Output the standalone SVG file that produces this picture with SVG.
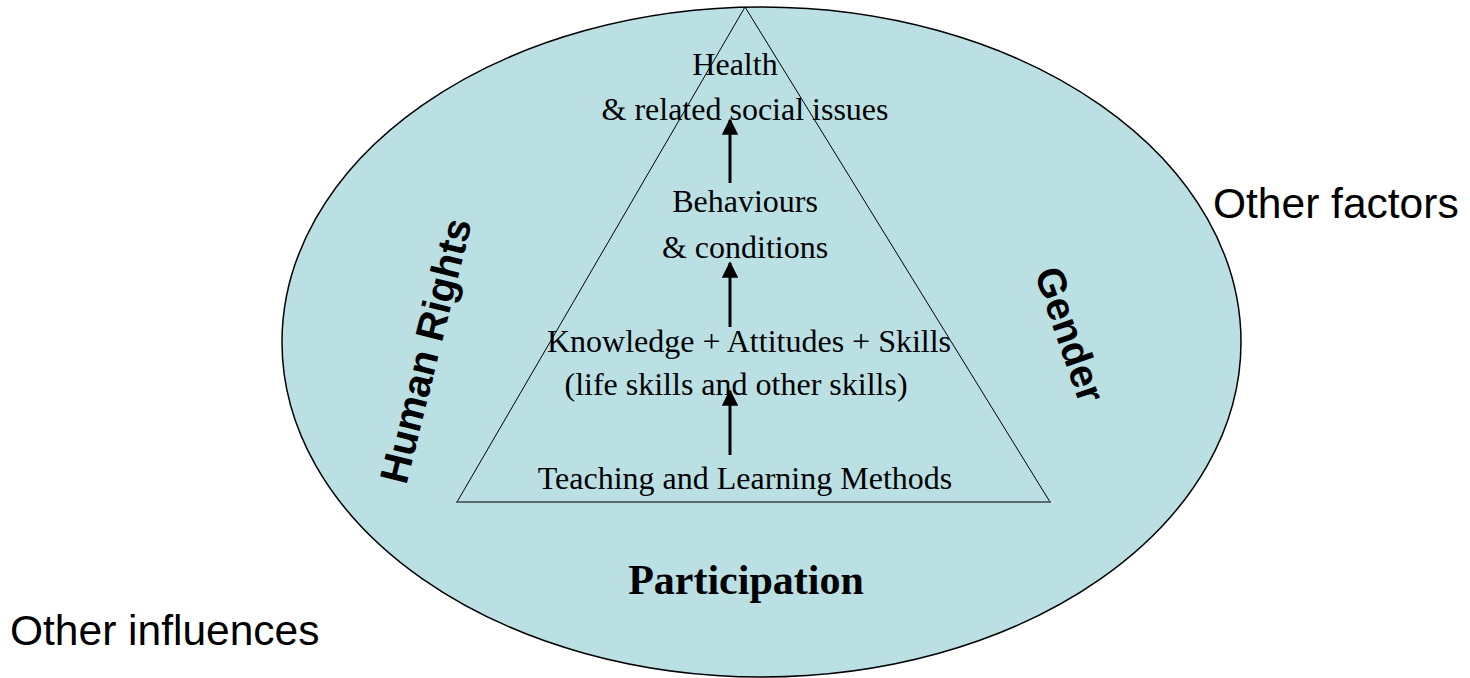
<svg xmlns="http://www.w3.org/2000/svg" width="1470" height="678" viewBox="0 0 1470 678">
<style>
.serif{font-family:"Liberation Serif","Times New Roman",serif;font-size:32px;fill:#000;text-anchor:middle}
.sansb{font-family:"Liberation Sans",Arial,sans-serif;font-size:40px;font-weight:bold;fill:#000;text-anchor:middle}
.sans{font-family:"Liberation Sans",Arial,sans-serif;font-size:42.5px;fill:#000}
.arrow{stroke:#000;stroke-width:3;fill:none;marker-end:url(#ah)}
</style>
<defs>
<marker id="ah" viewBox="0 0 10 10" refX="9" refY="5" markerWidth="5.5" markerHeight="5.5" markerUnits="strokeWidth" orient="auto">
<path d="M0,0 L10,5 L0,10 z" fill="#000"/>
</marker>
</defs>
<rect width="1470" height="678" fill="#fff"/>
<g id="context">
<ellipse cx="761.5" cy="342" rx="479.5" ry="335" fill="#BAE0E4" stroke="#000" stroke-width="1.5"/>
<text class="sansb" transform="translate(439,354) rotate(-76)">Human Rights</text>
<text class="sansb" transform="translate(1057,339) rotate(71)">Gender</text>
<text class="serif" x="746" y="594" style="font-size:42px;font-weight:bold">Participation</text>
</g>
<g id="pyramid">
<polyline points="457,502 745,7 1050,502" fill="none" stroke="#000" stroke-width="1"/>
<line x1="456" y1="502" x2="1051" y2="502" stroke="#5A6A6C" stroke-width="2"/>
</g>
<g id="node-health">
<text class="serif" x="735" y="75">Health</text>
<text class="serif" x="745" y="120">&amp; related social issues</text>
</g>
<g id="node-behaviours">
<text class="serif" x="745" y="212">Behaviours</text>
<text class="serif" x="745" y="258">&amp; conditions</text>
</g>
<g id="node-kas">
<text class="serif" x="749" y="352">Knowledge + Attitudes + Skills</text>
<text class="serif" x="736" y="395">(life skills and other skills)</text>
</g>
<g id="node-methods">
<text class="serif" x="745" y="489">Teaching and Learning Methods</text>
</g>
<g id="connectors">
<line class="arrow" x1="730" y1="183" x2="730" y2="120"/>
<line class="arrow" x1="730" y1="327" x2="730" y2="263"/>
<line class="arrow" x1="730" y1="455" x2="730" y2="391"/>
</g>
<g id="outside">
<text class="sans" x="1213" y="218">Other factors</text>
<text class="sans" x="10" y="645">Other influences</text>
</g>
</svg>
